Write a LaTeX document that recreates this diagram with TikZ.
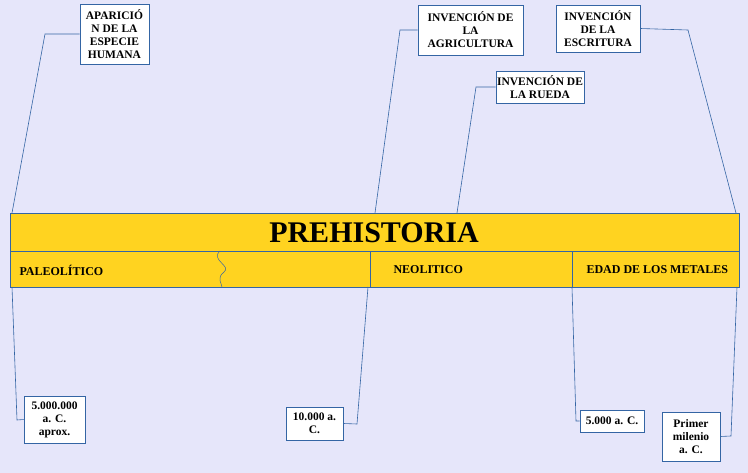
\documentclass[tikz,border=0pt]{standalone}
\usepackage{fontspec}
\setmainfont{Liberation Serif}
\definecolor{bg}{HTML}{E6E6FA}
\definecolor{band}{HTML}{FFD320}
\definecolor{ln}{HTML}{3465A4}
\begin{document}
\begin{tikzpicture}[x=1pt,y=-1pt,
  bx/.style={draw=ln,fill=white,line width=0.6pt,align=center,font=\fontsize{11.5}{13}\selectfont\bfseries,inner sep=1pt},
  cn/.style={draw=ln,line width=0.6pt}]
\fill[bg] (0,0) rectangle (748,473);
\useasboundingbox (0,0) rectangle (748,473);
\fill[band] (10,213) rectangle (739,287);
\draw[ln,line width=0.5pt] (10,213) rectangle (739,287);
\draw[ln,line width=0.5pt] (10,251) -- (739,251);
\draw[ln,line width=0.5pt] (220,251) .. controls (210,260) and (232,266) .. (224,272) .. controls (216,278) and (222,284) .. (222,287);
\draw[ln,line width=0.5pt] (370,251) -- (370,287);
\draw[ln,line width=0.5pt] (572,251) -- (572,287);
\node[font=\fontsize{30}{32}\selectfont\bfseries] (t) at (374,233) {PREHISTORIA};
\node[font=\fontsize{12}{13}\selectfont\bfseries,anchor=west] (p) at (16,270) {PALEOLÍTICO};
\node[font=\fontsize{12}{13}\selectfont\bfseries,anchor=west] (n) at (390,270) {NEOLITICO};
\node[font=\fontsize{12}{13}\selectfont\bfseries,anchor=west] (m) at (583,270) {EDAD DE LOS METALES};
% top boxes
\node[bx,minimum width=69pt,minimum height=60pt] (a) at (114.5,34) {APARICIÓ\\N DE LA\\ESPECIE\\HUMANA};
\node[bx,minimum width=105pt,minimum height=50pt] (b) at (470.5,30) {INVENCIÓN DE\\LA\\AGRICULTURA};
\node[bx,minimum width=82pt,minimum height=32pt] (c) at (540,87) {INVENCIÓN DE\\LA RUEDA};
\node[bx,minimum width=84pt,minimum height=47pt] (d) at (598,28.5) {INVENCIÓN\\DE LA\\ESCRITURA};
% bottom boxes
\node[bx,minimum width=61pt,minimum height=47pt] (e) at (54.5,419.5) {5.000.000\\a. C.\\aprox.};
\node[bx,minimum width=57pt,minimum height=33pt] (f) at (314.5,423.5) {10.000 a.\\C.};
\node[bx,minimum width=64pt,minimum height=22pt] (g) at (612,421) {5.000 a. C.};
\node[bx,minimum width=58pt,minimum height=49pt] (h) at (691,436.5) {Primer\\milenio\\a. C.};
\coordinate (a0) at (12,213);
\coordinate (b0) at (375,213);
\coordinate (c0) at (457,213);
\coordinate (d0) at (736,213);
\coordinate (e0) at (12,287);
\coordinate (f0) at (368,287);
\coordinate (g0) at (572,287);
\coordinate (h0) at (737,287);
\draw[cn] (a0) -- (45,34) -- (a.west);
\draw[cn] (b0) -- (400,30) -- (b.west);
\draw[cn] (c0) -- (476,87) -- (c.west);
\draw[cn] (d.east) -- (688,30) -- (d0);
\draw[cn] (e0) -- (17,420) -- (e.west);
\draw[cn] (f.east) -- (357,424) -- (f0);
\draw[cn] (g0) -- (576,421) -- (g.west);
\draw[cn] (h.east) -- (731,436) -- (h0);
\end{tikzpicture}
\end{document}
